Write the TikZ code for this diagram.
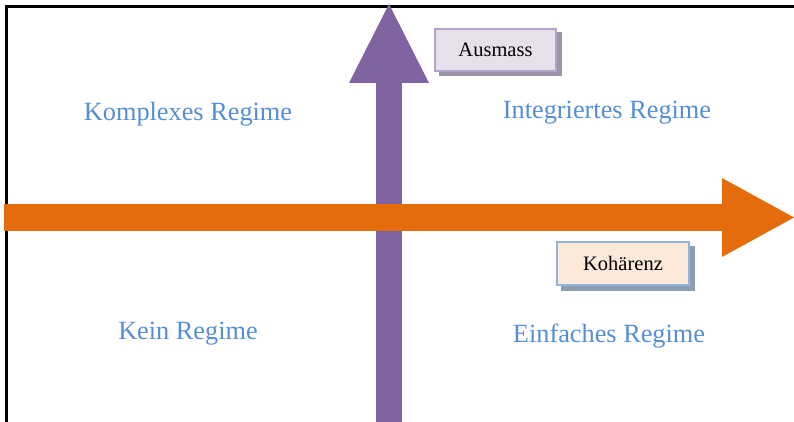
\documentclass[tikz,border=0pt]{standalone}
\usepackage{fontspec}
\setmainfont{Liberation Serif}
\usepackage{xcolor}
\usetikzlibrary{arrows.meta,positioning}

\definecolor{r128g100b162}{HTML}{8064A2}
\definecolor{r228g108b10}{HTML}{E46C0A}
\definecolor{r85g142b213}{HTML}{558ED5}
\definecolor{r229g224b236}{HTML}{E5E0EC}
\definecolor{r179g162b199}{HTML}{B3A2C7}
\definecolor{r253g233b217}{HTML}{FDE9D9}
\definecolor{r149g179b215}{HTML}{95B3D7}

\tikzset{
  regime/.style={anchor=base,text=r85g142b213,font=\fontsize{26.3}{30}\selectfont},
  axisbox/.style={draw,line width=2pt,minimum width=121pt,minimum height=42pt,
    inner sep=0pt,font=\fontsize{20.5}{24}\selectfont},
}

\begin{document}
\begin{tikzpicture}[x=1pt,y=-1pt]
                    \useasboundingbox (0,0) rectangle (794,422);
                    
                    % Drawing frame
                    \draw [line width=3pt] (6,423) -- (6,7) -- (795,7);%
                    
                    % Axis Ausmass (vertical)
                    \coordinate (vb) at (389,423);%
                    \coordinate (vt) at (389,4);%
                    \draw [line width=26.5pt,r128g100b162,-{Triangle[length=79pt,width=80pt,line width=0pt]}] (vb) -- (vt);%
                    
                    % Axis Kohaerenz (horizontal)
                    \coordinate (hl) at (4,217.5);%
                    \coordinate (hr) at (794,217.5);%
                    \draw [line width=27pt,r228g108b10,-{Triangle[length=72pt,width=79pt,line width=0pt]}] (hl) -- (hr);%
                    
                    % Axis labels with shadow
                    \fill [r179g162b199!60!gray] (438.5,32) rectangle (561.5,76);%
                    \node [axisbox,draw=r179g162b199,fill=r229g224b236] (ausmass) at (495.5,50) {Ausmass};%
                    \fill [r149g179b215!60!gray] (560.5,245.5) rectangle (694.5,290.5);%
                    \node [axisbox,minimum width=132pt,minimum height=43pt,draw=r149g179b215,fill=r253g233b217] (kohaerenz) at (623,263.5) {Kohärenz};%
                    
                    % Quadrants
                    \node [regime] (komplex) at (188,120.5) {Komplexes Regime};%
                    \node [regime] (integriert) at (607,118.5) {Integriertes Regime};%
                    \node [regime] (kein) at (188,339.5) {Kein Regime};%
                    \node [regime] (einfach) at (609,342.5) {Einfaches Regime};%
\end{tikzpicture}
\end{document}
